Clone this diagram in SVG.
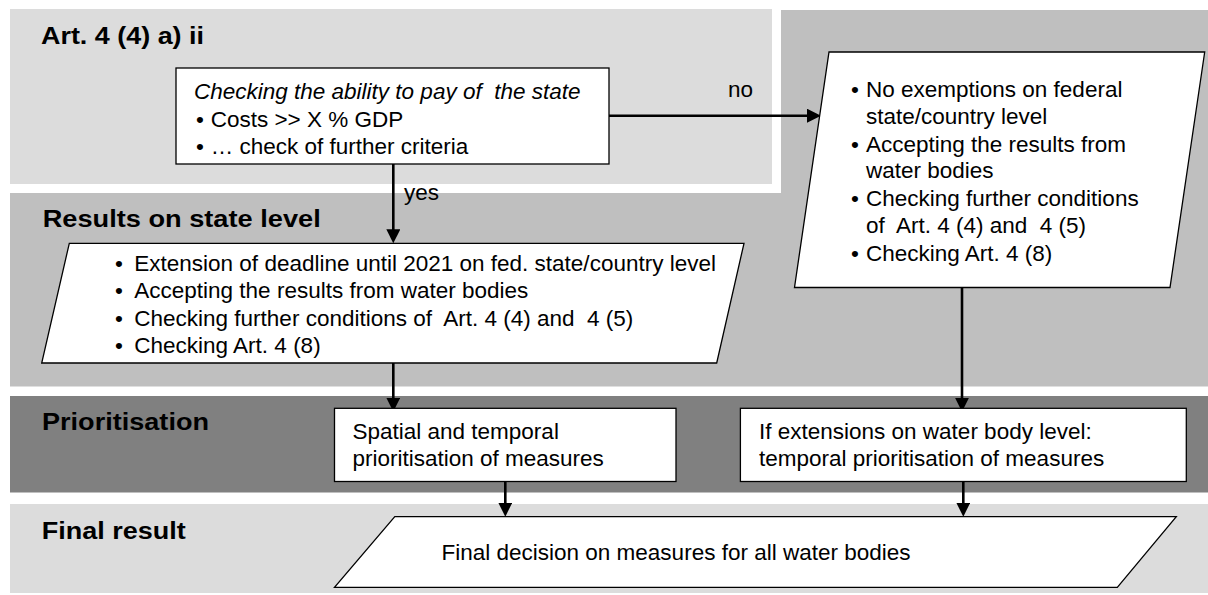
<svg xmlns="http://www.w3.org/2000/svg" width="1208" height="595" viewBox="0 0 1208 595">
<defs>
<style>
.band-light{fill:#dcdcdc}
.band-mid{fill:#bfbfbf}
.band-dark{fill:#808080}
.node{fill:#ffffff;stroke:#000000;stroke-width:1.3}
.t{font-family:"Liberation Sans",Arial,sans-serif;font-size:22.5px;fill:#000000}
.it{font-style:italic}
.title{font-family:"Liberation Sans",Arial,sans-serif;font-size:23px;font-weight:bold;fill:#000000}
.conn{stroke:#000000;stroke-width:2.6;fill:none}
</style>
<marker id="arrow" markerUnits="userSpaceOnUse" markerWidth="14" markerHeight="14" refX="4" refY="7" orient="auto">
<path d="M0,0 L14,7 L0,14 z" fill="#000000"/>
</marker>
</defs>
<rect width="1208" height="595" fill="#ffffff"/>
<g id="bands">
<rect class="band-light" x="10" y="9" width="762" height="175"/>
<polygon class="band-mid" points="781,10 1208,10 1208,386.5 10,386.5 10,193 781,193"/>
<rect class="band-dark" x="10" y="396" width="1198" height="96.5"/>
<rect class="band-light" x="10" y="504" width="1198" height="89"/>
<text class="title" x="41" y="44" textLength="163" lengthAdjust="spacingAndGlyphs">Art. 4 (4) a) ii</text>
<text class="title" x="42.7" y="226.7" textLength="278" lengthAdjust="spacingAndGlyphs">Results on state level</text>
<text class="title" x="42" y="430" textLength="167" lengthAdjust="spacingAndGlyphs">Prioritisation</text>
<text class="title" x="41.7" y="539" textLength="144" lengthAdjust="spacingAndGlyphs">Final result</text>
</g>
<g id="connectors">
<line class="conn" x1="609" y1="115.7" x2="811" y2="115.7" marker-end="url(#arrow)"/>
<text class="t" x="728" y="97">no</text>
<line class="conn" x1="393.3" y1="164" x2="393.3" y2="233.3" marker-end="url(#arrow)"/>
<text class="t" x="404" y="200">yes</text>
<line class="conn" x1="393.3" y1="363" x2="393.3" y2="401.7" marker-end="url(#arrow)"/>
<line class="conn" x1="962" y1="287.5" x2="962" y2="401.7" marker-end="url(#arrow)"/>
<line class="conn" x1="505.3" y1="481.5" x2="505.3" y2="506.7" marker-end="url(#arrow)"/>
<line class="conn" x1="963.3" y1="481.5" x2="963.3" y2="506.7" marker-end="url(#arrow)"/>
</g>
<g id="node-check">
<rect class="node" x="176" y="68" width="433" height="96"/>
<text class="t it" x="194" y="99" xml:space="preserve">Checking the ability to pay of  the state</text>
<text class="t" y="126.7"><tspan x="196">•</tspan><tspan x="210.7">Costs &gt;&gt; X % GDP</tspan></text>
<text class="t" y="154.3"><tspan x="196">•</tspan><tspan x="210.7">… check of further criteria</tspan></text>
</g>
<g id="node-noexempt">
<polygon class="node" points="829,52 1204.7,52 1170,287.5 794.5,287.5"/>
<text class="t" y="96.7"><tspan x="851">•</tspan><tspan x="866">No exemptions on federal</tspan></text>
<text class="t" x="866" y="124">state/country level</text>
<text class="t" y="151.7"><tspan x="851">•</tspan><tspan x="866">Accepting the results from</tspan></text>
<text class="t" x="866" y="178.3">water bodies</text>
<text class="t" y="206"><tspan x="851">•</tspan><tspan x="866">Checking further conditions</tspan></text>
<text class="t" x="866" y="233.3" xml:space="preserve">of  Art. 4 (4) and  4 (5)</text>
<text class="t" y="260.7"><tspan x="851">•</tspan><tspan x="866">Checking Art. 4 (8)</tspan></text>
</g>
<g id="node-statelevel">
<polygon class="node" points="69.3,243.3 744,243.3 716.7,363 41.7,363"/>
<text class="t" y="271.3"><tspan x="115">•</tspan><tspan x="134.3">Extension of deadline until 2021 on fed. state/country level</tspan></text>
<text class="t" y="298.4"><tspan x="115">•</tspan><tspan x="134.3">Accepting the results from water bodies</tspan></text>
<text class="t" y="325.5"><tspan x="115">•</tspan><tspan x="134.3" xml:space="preserve">Checking further conditions of  Art. 4 (4) and  4 (5)</tspan></text>
<text class="t" y="352.6"><tspan x="115">•</tspan><tspan x="134.3">Checking Art. 4 (8)</tspan></text>
</g>
<g id="node-spatial">
<rect class="node" x="334.5" y="408.3" width="341.5" height="73.2"/>
<text class="t" x="352.5" y="438.5">Spatial and temporal</text>
<text class="t" x="352.5" y="465.5">prioritisation of measures</text>
</g>
<g id="node-temporal">
<rect class="node" x="740.4" y="408.3" width="445.9" height="73.2"/>
<text class="t" x="759" y="438.5">If extensions on water body level:</text>
<text class="t" x="759" y="465.5">temporal prioritisation of measures</text>
</g>
<g id="node-final">
<polygon class="node" points="394.8,516.7 1176.3,516.7 1117.3,587.3 334.5,587.3"/>
<text class="t" x="441.5" y="559.5">Final decision on measures for all water bodies</text>
</g>
</svg>
